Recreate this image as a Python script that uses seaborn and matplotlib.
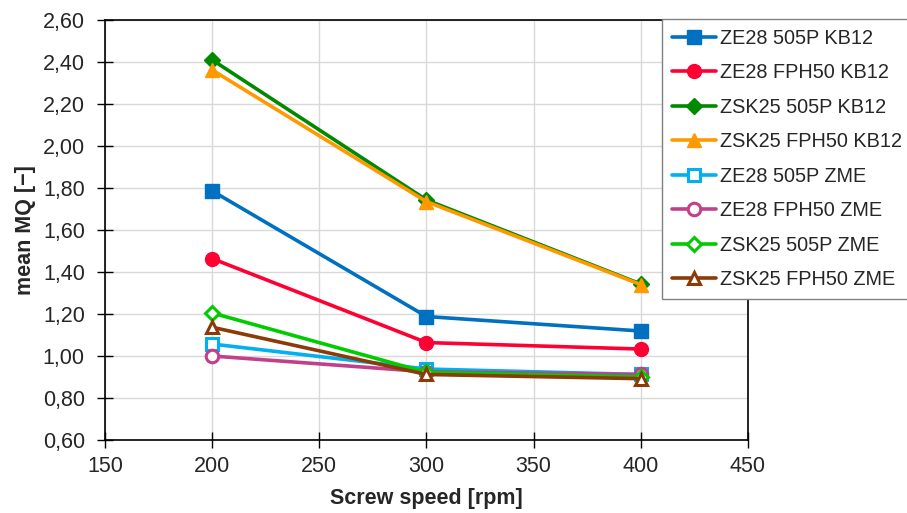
import matplotlib
matplotlib.use("Agg")
import matplotlib.pyplot as plt
import seaborn as sns
import pandas as pd
from matplotlib.ticker import FuncFormatter, MultipleLocator

speeds = [200, 300, 400]
series_names = ["ZE28 505P KB12", "ZE28 FPH50 KB12", "ZSK25 505P KB12", "ZSK25 FPH50 KB12",
                "ZE28 505P ZME", "ZE28 FPH50 ZME", "ZSK25 505P ZME", "ZSK25 FPH50 ZME"]
ze28_505p_kb12 = [1.786, 1.188, 1.119]
ze28_fph50_kb12 = [1.464, 1.064, 1.033]
zsk25_505p_kb12 = [2.41, 1.743, 1.343]
zsk25_fph50_kb12 = [2.362, 1.735, 1.340]
ze28_505p_zme = [1.057, 0.938, 0.912]
ze28_fph50_zme = [1.0, 0.925, 0.912]
zsk25_505p_zme = [1.205, 0.922, 0.900]
zsk25_fph50_zme = [1.137, 0.912, 0.892]
values = [ze28_505p_kb12, ze28_fph50_kb12, zsk25_505p_kb12, zsk25_fph50_kb12,
          ze28_505p_zme, ze28_fph50_zme, zsk25_505p_zme, zsk25_fph50_zme]
colors = ["#0070C0", "#FF0033", "#008A00", "#FF9900", "#00B0F0", "#C0408C", "#00CC00", "#8B3A08"]
markers = ["s", "o", "D", "^", "s", "o", "D", "^"]
hollow = [False, False, False, False, True, True, True, True]
msizes = [10, 10, 8, 10, 9, 9, 7, 9]

sns.set_theme(style="white")
plt.rcParams["font.family"] = ["Liberation Sans", "DejaVu Sans"]

fig = plt.figure(figsize=(9.07, 5.13), dpi=100)
ax = fig.add_axes([105/907, 1-440/513, 643/907, 420/513])

for name, vals, c, m, h, ms in zip(series_names, values, colors, markers, hollow, msizes):
    df = pd.DataFrame({"speed": speeds, "mq": vals})
    sns.lineplot(data=df, x="speed", y="mq", ax=ax, color=c, marker=m, markersize=ms,
                 linewidth=2.6, label=name,
                 markerfacecolor=("white" if h else c), markeredgecolor=c,
                 markeredgewidth=(2.2 if h else 1))

ax.set_xlim(150, 450)
ax.set_ylim(0.6, 2.6)
ax.xaxis.set_major_locator(MultipleLocator(50))
ax.yaxis.set_major_locator(MultipleLocator(0.2))
ax.yaxis.set_major_formatter(FuncFormatter(lambda v, p: f"{v:.2f}".replace(".", ",")))
ax.grid(True, color="#d9d9d9", linewidth=1)
for s in ["left", "bottom", "top", "right"]:
    ax.spines[s].set_visible(True)
    ax.spines[s].set_color("black")
    ax.spines[s].set_linewidth(1.2)
ax.tick_params(axis="y", direction="inout", length=11, width=1, color="black", labelsize=15.5, pad=9,
               left=True)
ax.tick_params(axis="x", direction="inout", length=11, width=1, color="black", labelsize=15.5, pad=6,
               bottom=True)
ax.set_xlabel("Screw speed [rpm]", fontsize=15.5, fontweight="bold", labelpad=8)
ax.set_ylabel("mean MQ [\u2212]", fontsize=15.5, fontweight="bold", labelpad=5)

leg = ax.legend(loc="upper left", bbox_to_anchor=(662/907, 1-19/513), bbox_transform=fig.transFigure,
                frameon=True, fancybox=False, edgecolor="#808080", fontsize=14.3,
                handlelength=2.2, handletextpad=0.2, labelspacing=0.78, borderpad=0.5,
                borderaxespad=0)
leg.get_frame().set_linewidth(1)
leg.get_frame().set_facecolor("white")
leg.get_frame().set_alpha(1)

fig.savefig("out.png", dpi=100)
